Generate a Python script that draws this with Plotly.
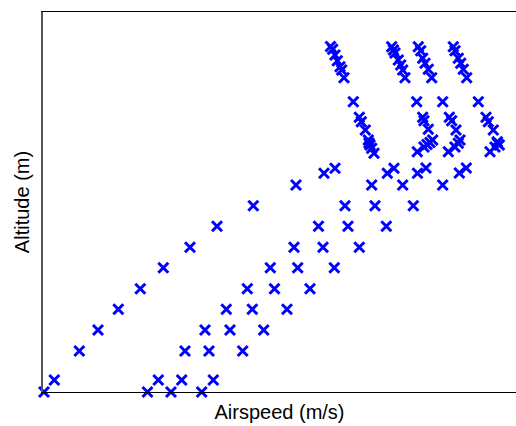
import plotly.graph_objects as go

# Four flight runs: airspeed (x) vs altitude (y), arbitrary units
s1_speed = [1, 11.3, 36.3, 55, 75.3, 97.3, 120.3, 147, 174, 210.3, 253, 281, 292,
            331, 328.7, 327, 326, 325.3, 322.3, 318.3, 316.3,
            310.3,
            301, 298.7, 297, 294.3, 292, 289.7, 287.5]
s1_alt = [0, 12, 41, 62, 82.7, 103.3, 124.3, 144.8, 165.7, 186.3, 207, 218.7, 223.7,
          238.7, 243.7, 247, 249, 252, 262, 270.3, 274.7,
          290.3,
          314.3, 322, 325.3, 331.3, 337, 342.7, 345.5]

s2_speed = [104.5, 115.3, 142, 162, 183.3, 204.3, 227.3, 251, 275.5, 302, 328.7, 344.3, 351,
            374.3, 381, 384, 387, 389.7, 385.3, 381, 379.7,
            373.7,
            362, 359.7, 357.7, 355.3, 352, 350.5, 348.7]
s2_alt = [0, 12, 41, 62, 82.7, 103.3, 124.3, 144.8, 165.7, 186.3, 207, 218.7, 223.7,
          240.3, 245, 247.5, 249.5, 252, 262.7, 271.3, 274.7,
          290.3,
          314.3, 322, 327, 332, 339, 342, 345.3]

s3_speed = [128, 138.7, 166, 187, 209.3, 231.5, 254.7, 280, 305, 332, 359.7, 374.5, 383,
            405.3, 412, 415.3, 417, 413, 408.7, 406.3,
            399.7,
            388.7, 385.3, 382, 379.7, 377.7, 375.3]
s3_alt = [0, 12, 41, 62, 82.7, 103.3, 124.3, 144.8, 165.7, 186.3, 207, 218.7, 224,
          240.3, 245, 248.7, 252, 262, 271.3, 274.7,
          290.3,
          314.3, 322.7, 328.7, 333.7, 341.3, 345.3]

s4_speed = [158.7, 170.3, 199.7, 220.7, 244, 267, 291.3, 316.3, 343.3, 370.3, 399.7, 416.3, 423.3,
            447, 452, 454.3, 456.3, 454.3, 450.3, 445.3, 443,
            435.3,
            423.7, 420.3, 417.7, 415.3, 412, 410.3]
s4_alt = [0, 12, 41, 62, 82.7, 103.3, 124.3, 144.8, 165.7, 186.3, 207, 219, 224,
          240.3, 245, 249, 247, 250.3, 262, 270.3, 274.7,
          290.3,
          314.3, 322.7, 328.7, 333.7, 341.3, 345.3]

x_title = "Airspeed (m/s)"
y_title = "Altitude (m)"

fig = go.Figure()
for xs, ys in [(s1_speed, s1_alt), (s2_speed, s2_alt), (s3_speed, s3_alt), (s4_speed, s4_alt)]:
    fig.add_trace(go.Scatter(
        x=xs, y=ys, mode="markers",
        marker=dict(symbol="x-thin", size=10, line=dict(width=3, color="#0000ff"), color="#0000ff"),
        showlegend=False, cliponaxis=False,
    ))

fig.update_layout(
    width=516, height=426,
    margin=dict(l=43, r=0, t=12, b=34),
    plot_bgcolor="white", paper_bgcolor="white",
    font=dict(family="Liberation Sans, Arial, sans-serif", size=20, color="black"),
    xaxis=dict(range=[0, 473], showgrid=False, zeroline=False, showticklabels=False,
               ticks="", showline=True, linecolor="black", linewidth=1, mirror=True,
               title=dict(text=x_title, standoff=12, font=dict(size=20))),
    yaxis=dict(range=[0, 380], showgrid=False, zeroline=False, showticklabels=False,
               ticks="", showline=True, linecolor="#555555", linewidth=1.5, mirror=False,
               title=dict(text=y_title, standoff=6, font=dict(size=20))),
)

fig.write_html("out.html")
